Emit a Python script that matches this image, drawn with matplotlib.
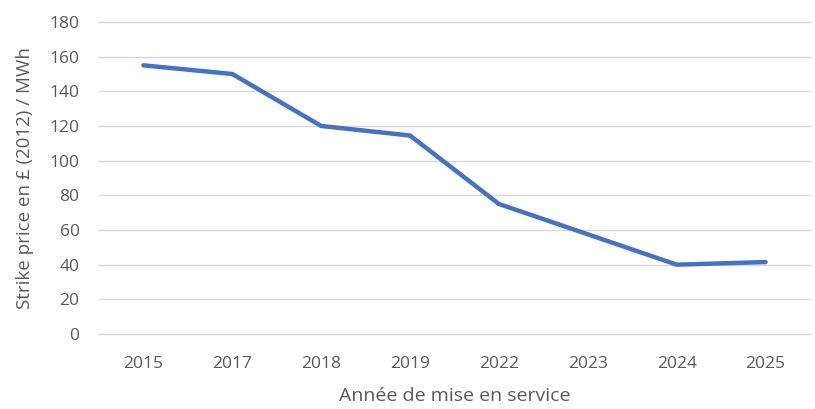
import matplotlib.pyplot as plt

years = ['2015', '2017', '2018', '2019', '2022', '2023', '2024', '2025']
strike_price = [155, 150, 120, 114.5, 75, 57.5, 40, 41.5]

text_color = '#595959'
plt.rcParams['font.family'] = ['Open Sans', 'DejaVu Sans']

fig = plt.figure(figsize=(8.15, 4.09), dpi=100)
ax = fig.add_axes([0.1215, 0.1834, 0.8724, 0.7628])

x = list(range(len(years)))
ax.plot(x, strike_price, color='#4472C4', linewidth=3.2, solid_capstyle='round',
        solid_joinstyle='round', zorder=3)

ax.set_xlim(-0.5, len(years) - 0.5)
ax.set_ylim(0, 180)
ax.set_yticks(range(0, 181, 20))
ax.set_xticks(x)
ax.set_xticklabels(years)

ax.grid(axis='y', color='#D9D9D9', linewidth=1)
for gl in ax.yaxis.get_gridlines():
    gl.set_clip_on(False)
ax.set_axisbelow(True)
for s in ax.spines.values():
    s.set_visible(False)
ax.tick_params(length=0, labelsize=12.5, colors=text_color)
ax.tick_params(axis='x', pad=16)
ax.tick_params(axis='y', pad=14)

ax.set_xlabel('Année de mise en service', fontsize=14, color=text_color, labelpad=11)
ax.set_ylabel('Strike price en £ (2012) / MWh', fontsize=13.5, color=text_color, labelpad=11)

plt.savefig('out.png', dpi=100)
